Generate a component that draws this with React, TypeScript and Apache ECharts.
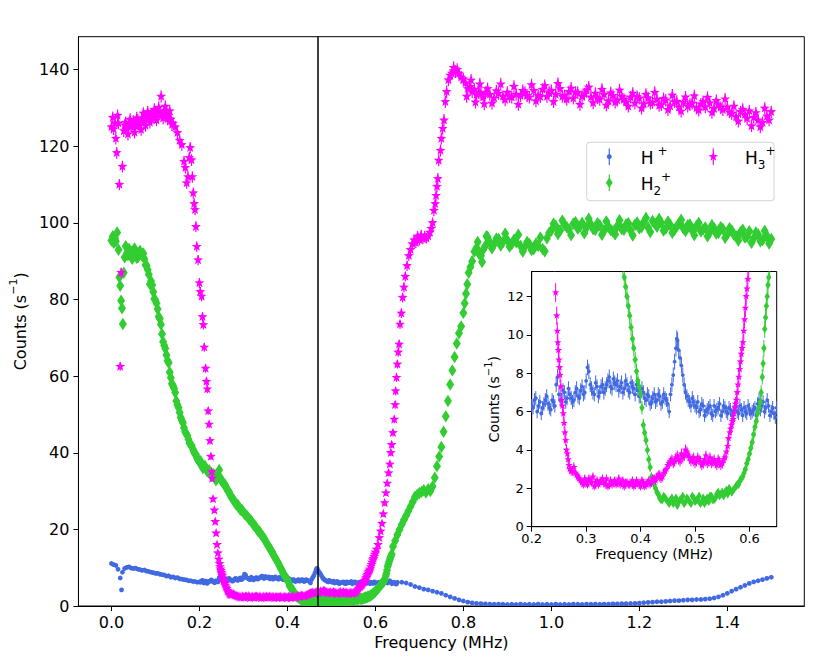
import React, { useEffect, useRef } from "react";
import * as echarts from "echarts";

// ---------------- data ----------------
// frequency (MHz), counts (s^-1)
const H1_DATA: [number, number][] = [
  [0, 11.1], [0.005, 10.8], [0.01, 10.6], [0.015, 9.6], [0.02, 7.3], [0.023, 4.2], [0.025, 8.8], [0.03, 9.8],
  [0.035, 10.1], [0.04, 10.2], [0.045, 9.9], [0.05, 9.8], [0.055, 9.9], [0.06, 9.6], [0.065, 9.5], [0.07, 9.3],
  [0.075, 9.4], [0.08, 9.1], [0.085, 9.0], [0.09, 8.8], [0.095, 8.7], [0.1, 8.5], [0.105, 8.5], [0.11, 8.3],
  [0.115, 8.2], [0.12, 8.1], [0.125, 7.8], [0.13, 7.9], [0.135, 7.5], [0.14, 7.6], [0.145, 7.3], [0.15, 7.4],
  [0.155, 7.1], [0.16, 7.0], [0.165, 6.9], [0.17, 6.8], [0.175, 6.6], [0.18, 6.6], [0.185, 6.4], [0.19, 6.4],
  [0.195, 6.2], [0.2, 6.3], [0.205, 6.6], [0.21, 6.0], [0.215, 6.5], [0.22, 6.2], [0.225, 6.6], [0.23, 6.4],
  [0.235, 6.1], [0.24, 6.5], [0.245, 7.4], [0.25, 6.9], [0.255, 6.6], [0.26, 7.0], [0.265, 6.7], [0.27, 6.9],
  [0.275, 6.5], [0.28, 7.0], [0.285, 6.8], [0.29, 7.1], [0.295, 6.9], [0.3, 7.6], [0.305, 8.1], [0.31, 7.2],
  [0.315, 6.9], [0.32, 7.3], [0.325, 7.0], [0.33, 7.4], [0.335, 7.2], [0.34, 7.6], [0.345, 7.3], [0.35, 7.7],
  [0.355, 7.4], [0.36, 7.1], [0.365, 7.5], [0.37, 7.2], [0.375, 7.4], [0.38, 7.0], [0.385, 7.3], [0.39, 6.9],
  [0.395, 7.1], [0.4, 6.8], [0.405, 7.0], [0.41, 6.6], [0.415, 6.8], [0.42, 6.5], [0.425, 6.9], [0.43, 6.6],
  [0.435, 6.8], [0.44, 6.5], [0.445, 6.7], [0.45, 6.4], [0.455, 6.9], [0.46, 7.9], [0.465, 9.3], [0.468, 9.7],
  [0.47, 9.2], [0.475, 8.4], [0.48, 7.4], [0.485, 6.8], [0.49, 6.5], [0.495, 6.7], [0.5, 6.3], [0.505, 6.5],
  [0.51, 6.1], [0.515, 6.3], [0.52, 6.0], [0.525, 6.2], [0.53, 5.9], [0.535, 6.3], [0.54, 6.1], [0.545, 6.4],
  [0.55, 6.0], [0.555, 6.2], [0.56, 5.9], [0.565, 6.1], [0.57, 6.0], [0.575, 6.3], [0.58, 5.9], [0.585, 6.1],
  [0.59, 6.2], [0.595, 5.9], [0.6, 6.1], [0.605, 6.0], [0.61, 6.2], [0.615, 6.4], [0.62, 6.1], [0.625, 6.5],
  [0.63, 6.2], [0.635, 6.3], [0.64, 6.0], [0.645, 5.9], [0.65, 6.2], [0.66, 6.2], [0.67, 6.0], [0.68, 5.6],
  [0.69, 5.1], [0.7, 4.8], [0.71, 4.4], [0.72, 4.2], [0.73, 3.9], [0.74, 3.6], [0.75, 3.3], [0.76, 2.8],
  [0.77, 2.4], [0.78, 2.0], [0.79, 1.6], [0.8, 1.3], [0.81, 1.0], [0.82, 0.8], [0.83, 0.7], [0.84, 0.6],
  [0.85, 0.55], [0.86, 0.5], [0.87, 0.45], [0.88, 0.5], [0.89, 0.45], [0.9, 0.4], [0.91, 0.45], [0.92, 0.4],
  [0.93, 0.5], [0.94, 0.4], [0.95, 0.45], [0.96, 0.4], [0.97, 0.5], [0.98, 0.4], [0.99, 0.45], [1.0, 0.4],
  [1.01, 0.5], [1.02, 0.4], [1.03, 0.45], [1.04, 0.4], [1.05, 0.5], [1.06, 0.45], [1.07, 0.4], [1.08, 0.5],
  [1.09, 0.45], [1.1, 0.5], [1.11, 0.45], [1.12, 0.5], [1.13, 0.5], [1.14, 0.55], [1.15, 0.55], [1.16, 0.6],
  [1.17, 0.6], [1.18, 0.65], [1.19, 0.7], [1.2, 0.75], [1.21, 0.85], [1.22, 0.95], [1.23, 1.0], [1.24, 1.1],
  [1.25, 1.1], [1.26, 1.2], [1.27, 1.3], [1.28, 1.4], [1.29, 1.4], [1.3, 1.5], [1.31, 1.6], [1.32, 1.6],
  [1.33, 1.7], [1.34, 1.7], [1.35, 1.8], [1.36, 1.9], [1.37, 2.1], [1.38, 2.4], [1.39, 2.8], [1.4, 3.3],
  [1.41, 3.9], [1.42, 4.4], [1.43, 4.9], [1.44, 5.4], [1.45, 5.9], [1.46, 6.3], [1.47, 6.6], [1.48, 6.9],
  [1.49, 7.2], [1.5, 7.5],
];
// interleaved H+ scan points in the 0.2–0.65 MHz window
const H1_FINE: [number, number][] = [
  [0.2025, 6.2], [0.2075, 6.7], [0.2125, 6.3], [0.2175, 5.9], [0.2225, 6.4], [0.2275, 6.8], [0.2325, 6.2],
  [0.2375, 6.6], [0.2425, 6.3], [0.2475, 7.8], [0.2525, 6.6], [0.2575, 7.1], [0.2625, 6.5], [0.2675, 7.2],
  [0.2725, 6.7], [0.2775, 6.6], [0.2825, 7.2], [0.2875, 6.7], [0.2925, 7.3], [0.2975, 7.0], [0.3025, 8.3],
  [0.3075, 7.4], [0.3125, 7.0], [0.3175, 7.5], [0.3225, 6.8], [0.3275, 7.3], [0.3325, 7.0], [0.3375, 7.4],
  [0.3425, 7.8], [0.3475, 7.2], [0.3525, 7.5], [0.3575, 7.6], [0.3625, 7.3], [0.3675, 7.0], [0.3725, 7.6],
  [0.3775, 7.1], [0.3825, 7.5], [0.3875, 7.2], [0.3925, 7.4], [0.3975, 6.8], [0.4025, 7.2], [0.4075, 6.7],
  [0.4125, 6.9], [0.4175, 6.4], [0.4225, 6.7], [0.4275, 6.5], [0.4325, 6.9], [0.4375, 6.4], [0.4425, 6.9],
  [0.4475, 6.6], [0.4525, 6.0], [0.4575, 7.4], [0.4625, 8.6], [0.4665, 9.8], [0.4725, 8.8], [0.4775, 7.9],
  [0.4825, 7.0], [0.4875, 6.6], [0.4925, 6.3], [0.4975, 6.5], [0.5025, 6.2], [0.5075, 6.0], [0.5125, 6.4],
  [0.5175, 5.8], [0.5225, 6.1], [0.5275, 6.3], [0.5325, 5.8], [0.5375, 6.0], [0.5425, 6.2], [0.5475, 5.8],
  [0.5525, 6.3], [0.5575, 6.0], [0.5625, 6.2], [0.5675, 5.8], [0.5725, 6.1], [0.5775, 6.0], [0.5825, 6.3],
  [0.5875, 5.8], [0.5925, 6.0], [0.5975, 6.3], [0.6025, 5.9], [0.6075, 6.1], [0.6125, 5.8], [0.6175, 6.6],
  [0.6225, 6.3], [0.6275, 6.0], [0.6325, 6.6], [0.6375, 5.8], [0.6425, 6.2], [0.6475, 5.7],
];

const H2_DATA: [number, number][] = [
  [0, 95.4], [0.003, 96.5], [0.005, 94.8], [0.008, 96.0], [0.01, 95.2], [0.013, 97.5], [0.016, 93.0],
  [0.018, 85.8], [0.02, 83.6], [0.022, 79.7], [0.024, 77.7], [0.026, 73.6], [0.028, 87.0], [0.03, 91.0],
  [0.035, 92.0], [0.04, 93.2], [0.045, 92.5], [0.05, 91.2], [0.055, 92.0], [0.06, 91.0], [0.065, 92.7],
  [0.07, 91.5], [0.075, 90.6], [0.08, 88.9], [0.085, 86.5], [0.09, 84.8], [0.095, 82.0], [0.1, 79.8],
  [0.105, 77.5], [0.11, 75.0], [0.115, 71.0], [0.12, 68.0], [0.125, 65.5], [0.13, 63.5], [0.135, 59.6],
  [0.14, 57.5], [0.145, 55.7], [0.15, 52.5], [0.155, 50.5], [0.16, 48.5], [0.165, 46.5], [0.17, 45.0],
  [0.175, 43.5], [0.18, 42.2], [0.185, 41.0], [0.19, 39.7], [0.195, 38.5], [0.2, 37.5], [0.205, 36.8],
  [0.21, 36.2], [0.215, 35.8], [0.22, 35.0], [0.225, 34.5], [0.23, 34.0], [0.235, 33.5], [0.24, 33.2],
  [0.245, 35.5], [0.25, 32.8], [0.255, 32.0], [0.26, 31.2], [0.265, 30.0], [0.27, 29.0], [0.275, 28.0],
  [0.28, 27.2], [0.285, 26.5], [0.29, 25.8], [0.295, 25.0], [0.3, 24.5], [0.305, 23.8], [0.31, 23.2],
  [0.315, 22.5], [0.32, 21.8], [0.325, 21.0], [0.33, 20.2], [0.335, 19.5], [0.34, 18.7], [0.345, 18.0],
  [0.35, 17.0], [0.355, 16.0], [0.36, 15.0], [0.365, 14.2], [0.37, 13.0], [0.375, 12.0], [0.38, 11.0],
  [0.385, 9.8], [0.39, 8.7], [0.395, 7.6], [0.4, 6.9], [0.405, 5.3], [0.41, 4.5], [0.415, 3.5], [0.42, 2.6],
  [0.425, 2.2], [0.43, 1.8], [0.435, 1.5], [0.44, 1.4], [0.445, 1.5], [0.45, 1.3], [0.455, 1.4], [0.46, 1.2],
  [0.465, 1.5], [0.47, 1.3], [0.475, 1.4], [0.48, 1.2], [0.485, 1.5], [0.49, 1.3], [0.495, 1.6], [0.5, 1.3],
  [0.505, 1.4], [0.51, 1.2], [0.515, 1.5], [0.52, 1.4], [0.525, 1.3], [0.53, 1.6], [0.535, 1.4], [0.54, 1.7],
  [0.545, 1.6], [0.55, 1.8], [0.555, 1.8], [0.56, 1.7], [0.565, 1.9], [0.57, 1.9], [0.575, 2.1], [0.58, 2.2],
  [0.585, 2.5], [0.59, 2.8], [0.595, 3.3], [0.6, 3.8], [0.605, 4.4], [0.61, 5.2], [0.615, 5.9], [0.62, 6.5],
  [0.625, 8.5], [0.628, 10.3], [0.631, 11.5], [0.634, 12.6], [0.637, 13.5], [0.64, 15.5], [0.645, 17.0],
  [0.65, 18.6], [0.655, 20.0], [0.66, 21.3], [0.665, 22.5], [0.67, 23.6], [0.675, 24.8], [0.68, 26.0],
  [0.685, 27.2], [0.69, 28.5], [0.695, 29.0], [0.7, 29.5], [0.705, 29.8], [0.71, 30.2], [0.715, 29.6],
  [0.72, 30.5], [0.725, 30.0], [0.73, 31.2], [0.735, 33.5], [0.74, 36.5], [0.745, 39.0], [0.75, 41.5],
  [0.755, 45.5], [0.76, 49.5], [0.765, 53.5], [0.77, 57.8], [0.775, 61.5], [0.78, 65.0], [0.785, 68.5],
  [0.79, 71.2], [0.795, 73.0], [0.8, 76.5], [0.803, 79.0], [0.806, 81.5], [0.809, 84.0], [0.812, 87.0],
  [0.816, 88.5], [0.82, 90.0], [0.825, 92.5], [0.83, 93.5], [0.835, 92.0], [0.84, 91.4], [0.845, 93.0],
  [0.85, 94.0], [0.86, 95.0], [0.87, 94.5], [0.88, 95.8], [0.89, 95.0], [0.9, 95.5], [0.91, 94.5],
  [0.92, 95.0], [0.93, 94.0], [0.94, 93.8], [0.95, 94.5], [0.96, 93.2], [0.97, 94.0], [0.98, 93.2],
  [0.99, 96.0], [1.0, 98.0], [1.01, 99.2], [1.02, 98.0], [1.03, 99.5], [1.04, 98.3], [1.05, 99.8],
  [1.06, 98.5], [1.07, 100.0], [1.08, 98.8], [1.09, 99.6], [1.1, 98.2], [1.11, 99.4], [1.12, 98.0],
  [1.13, 99.0], [1.14, 97.8], [1.15, 99.2], [1.16, 98.4], [1.17, 99.6], [1.18, 98.0], [1.19, 99.5],
  [1.2, 98.6], [1.21, 100.2], [1.22, 98.8], [1.23, 100.5], [1.24, 99.0], [1.25, 100.0], [1.26, 98.5],
  [1.27, 99.5], [1.28, 98.2], [1.29, 99.8], [1.3, 98.6], [1.31, 99.4], [1.32, 98.0], [1.33, 99.2],
  [1.34, 97.8], [1.35, 98.8], [1.36, 97.5], [1.37, 98.6], [1.38, 97.4], [1.39, 98.4], [1.4, 97.0],
  [1.41, 98.0], [1.42, 96.5], [1.43, 97.6], [1.44, 96.2], [1.45, 97.8], [1.46, 96.0], [1.47, 97.0],
  [1.48, 95.5], [1.49, 96.6], [1.5, 95.8],
];
// interleaved H2+ scan points
const H2_FINE: [number, number][] = [
  [0.0325, 93.9], [0.0375, 91.6], [0.0425, 92.4], [0.0475, 90.6], [0.0525, 93.3], [0.0575, 90.9], [0.0625, 92.2],
  [0.0675, 91.8], [0.0725, 92.0], [0.0775, 89.0], [0.0825, 87.8], [0.0875, 84.0], [0.0925, 83.8], [0.0975, 80.2],
  [0.1025, 79.0], [0.1075, 75.5], [0.1125, 73.5], [0.1175, 69.0], [0.1225, 67.2], [0.1275, 64.0], [0.1325, 61.0],
  [0.1375, 58.0], [0.1425, 56.8], [0.1475, 53.5], [0.1525, 51.8], [0.1575, 49.2], [0.1625, 47.8], [0.1675, 45.5],
  [0.1725, 44.5], [0.1775, 42.5], [0.1825, 41.8], [0.1875, 40.2], [0.1925, 39.5], [0.1975, 38.0],
  [0.2025, 37.8], [0.2075, 36.0], [0.2125, 36.6], [0.2175, 35.2], [0.2225, 35.4], [0.2275, 33.9], [0.2325, 34.4],
  [0.2375, 32.8], [0.2425, 34.0], [0.2475, 33.5], [0.2525, 32.2], [0.2575, 31.8], [0.2625, 30.5], [0.2675, 29.8],
  [0.2725, 28.4], [0.2775, 27.8], [0.2825, 26.6], [0.2875, 26.4], [0.2925, 25.2], [0.2975, 25.0], [0.3025, 24.0],
  [0.3075, 23.6], [0.3125, 22.7], [0.3175, 22.3], [0.3225, 21.2], [0.3275, 20.8], [0.3325, 19.7], [0.3375, 19.3],
  [0.3425, 18.2], [0.3475, 17.6], [0.3525, 16.4], [0.3575, 15.6], [0.3625, 14.5], [0.3675, 13.6], [0.3725, 12.5],
  [0.3775, 11.5], [0.3825, 10.4], [0.3875, 9.3], [0.3925, 8.1], [0.3975, 7.3], [0.4025, 6.2], [0.4075, 4.9],
  [0.4125, 4.0], [0.4175, 3.1], [0.4225, 2.4], [0.4275, 2.0], [0.4325, 1.7], [0.4375, 1.4], [0.4425, 1.6],
  [0.4475, 1.4], [0.4525, 1.2], [0.4575, 1.5], [0.4625, 1.3], [0.4675, 1.1], [0.4725, 1.4], [0.4775, 1.6],
  [0.4825, 1.3], [0.4875, 1.4], [0.4925, 1.2], [0.4975, 1.5], [0.5025, 1.4], [0.5075, 1.6], [0.5125, 1.3],
  [0.5175, 1.2], [0.5225, 1.5], [0.5275, 1.6], [0.5325, 1.4], [0.5375, 1.5], [0.5425, 1.8], [0.5475, 1.7],
  [0.5525, 1.6], [0.5575, 1.9], [0.5625, 2.0], [0.5675, 1.8], [0.5725, 2.0], [0.5775, 2.2], [0.5825, 2.4],
  [0.5875, 2.6], [0.5925, 3.0], [0.5975, 3.5], [0.6025, 4.1], [0.6075, 4.8], [0.6125, 5.5], [0.6175, 6.2],
  [0.6215, 7.0], [0.6235, 7.8], [0.6265, 9.3], [0.6295, 10.9], [0.6325, 12.0], [0.6355, 13.0],
  [0.8325, 95.0], [0.8425, 89.8], [0.8525, 96.5],
  [0.855, 96.3], [0.865, 93.4], [0.875, 95.9], [0.885, 94.1], [0.895, 97.2], [0.905, 93.8], [0.915, 95.6],
  [0.925, 96.9], [0.935, 92.5], [0.945, 95.0], [0.955, 92.9], [0.965, 94.6], [0.975, 96.2], [0.985, 92.6],
  [0.995, 97.4], [1.005, 99.8], [1.015, 97.1], [1.025, 100.6], [1.035, 98.9], [1.045, 96.8], [1.055, 100.2],
  [1.065, 99.0], [1.075, 97.3], [1.085, 101.1], [1.095, 98.4], [1.105, 99.9], [1.115, 96.9], [1.125, 100.4],
  [1.135, 98.1], [1.145, 97.0], [1.155, 100.7], [1.165, 98.2], [1.175, 99.9], [1.185, 96.7], [1.195, 100.1],
  [1.205, 98.9], [1.215, 101.3], [1.225, 97.6], [1.235, 99.8], [1.245, 101.0], [1.255, 98.0], [1.265, 100.3],
  [1.275, 97.4], [1.285, 99.1], [1.295, 100.8], [1.305, 97.9], [1.315, 99.6], [1.325, 96.8], [1.335, 100.0],
  [1.345, 98.3], [1.355, 96.5], [1.365, 99.4], [1.375, 97.2], [1.385, 98.9], [1.395, 96.1], [1.405, 98.6],
  [1.415, 96.9], [1.425, 95.4], [1.435, 98.2], [1.445, 96.4], [1.455, 94.8], [1.465, 97.5], [1.475, 95.2],
  [1.485, 97.9], [1.495, 94.6],
];

const H3_DATA: [number, number][] = [
  [0, 125.0], [0.003, 127.5], [0.005, 124.5], [0.008, 126.0], [0.01, 122.0], [0.012, 118.3], [0.014, 128.0],
  [0.016, 126.0], [0.018, 110.0], [0.02, 62.5], [0.022, 87.0], [0.025, 114.7], [0.028, 124.0], [0.03, 125.5],
  [0.035, 124.5], [0.04, 126.0], [0.045, 125.0], [0.05, 126.5], [0.055, 125.2], [0.06, 126.8], [0.065, 125.5],
  [0.07, 127.2], [0.075, 126.3], [0.08, 127.8], [0.085, 127.0], [0.09, 128.3], [0.095, 127.5], [0.1, 128.8],
  [0.105, 128.0], [0.11, 129.0], [0.113, 133.0], [0.115, 128.2], [0.12, 129.2], [0.125, 128.5], [0.13, 128.0],
  [0.135, 127.0], [0.14, 126.0], [0.145, 125.0], [0.15, 123.5], [0.155, 121.5], [0.16, 120.4], [0.165, 116.0],
  [0.168, 114.4], [0.171, 110.4], [0.174, 112.0], [0.177, 117.0], [0.179, 119.6], [0.182, 116.4], [0.184, 112.0],
  [0.186, 107.8], [0.188, 105.0], [0.19, 103.4], [0.192, 99.0], [0.194, 93.8], [0.197, 90.3], [0.2, 84.3],
  [0.202, 82.0], [0.205, 80.8], [0.207, 75.5], [0.209, 73.4], [0.211, 67.5], [0.214, 62.0], [0.216, 58.6],
  [0.218, 56.6], [0.22, 50.9], [0.222, 47.4], [0.224, 43.1], [0.226, 39.0], [0.228, 35.0], [0.229, 33.3],
  [0.231, 27.9], [0.234, 25.0], [0.236, 22.0], [0.238, 19.0], [0.24, 16.0], [0.242, 13.8], [0.244, 12.2],
  [0.246, 11.0], [0.248, 9.6], [0.25, 8.7], [0.252, 7.9], [0.255, 6.6], [0.258, 5.9], [0.261, 4.9],
  [0.264, 4.0], [0.267, 3.5], [0.27, 3.0], [0.275, 2.9], [0.28, 2.8], [0.285, 2.6], [0.29, 2.4], [0.295, 2.2],
  [0.3, 2.3], [0.305, 2.5], [0.31, 2.3], [0.315, 2.1], [0.32, 2.4], [0.325, 2.3], [0.33, 2.5], [0.335, 2.2],
  [0.34, 2.1], [0.345, 2.4], [0.35, 2.3], [0.355, 2.2], [0.36, 2.5], [0.365, 2.3], [0.37, 2.1], [0.375, 2.3],
  [0.38, 2.2], [0.385, 2.4], [0.39, 2.2], [0.395, 2.3], [0.4, 2.1], [0.405, 2.3], [0.41, 2.2], [0.415, 2.4],
  [0.42, 2.3], [0.425, 2.5], [0.43, 2.6], [0.435, 2.7], [0.44, 2.6], [0.445, 2.9], [0.45, 3.2], [0.455, 3.4],
  [0.46, 3.3], [0.465, 3.6], [0.47, 3.5], [0.475, 3.8], [0.48, 3.7], [0.485, 3.9], [0.49, 3.6], [0.495, 3.5],
  [0.5, 3.3], [0.505, 3.6], [0.51, 3.4], [0.515, 3.3], [0.52, 3.7], [0.525, 3.4], [0.53, 3.3], [0.535, 3.5],
  [0.54, 3.2], [0.545, 3.4], [0.55, 3.3], [0.555, 3.6], [0.56, 4.2], [0.564, 4.9], [0.567, 5.3], [0.57, 5.6],
  [0.573, 6.2], [0.576, 6.6], [0.579, 7.4], [0.582, 8.2], [0.585, 9.0], [0.588, 9.6], [0.591, 10.8],
  [0.594, 12.0], [0.597, 12.9], [0.6, 14.0], [0.603, 14.8], [0.606, 16.0], [0.609, 17.8], [0.612, 19.5],
  [0.615, 21.5], [0.618, 24.0], [0.621, 26.9], [0.624, 29.5], [0.627, 32.0], [0.63, 34.7], [0.633, 37.0],
  [0.635, 40.0], [0.637, 42.1], [0.64, 45.2], [0.643, 48.7], [0.645, 52.5], [0.646, 56.1], [0.648, 59.6],
  [0.65, 63.1], [0.652, 66.2], [0.654, 68.3], [0.656, 73.5], [0.659, 76.4], [0.662, 80.5], [0.665, 83.2],
  [0.668, 86.0], [0.672, 88.8], [0.676, 91.4], [0.68, 93.0], [0.684, 94.5], [0.688, 95.5], [0.692, 94.8],
  [0.696, 96.5], [0.7, 95.5], [0.704, 96.8], [0.708, 95.8], [0.712, 96.5], [0.716, 96.0], [0.72, 96.5],
  [0.724, 97.5], [0.727, 98.5], [0.73, 100.0], [0.733, 103.2], [0.736, 105.0], [0.738, 107.1], [0.74, 109.5],
  [0.742, 111.5], [0.744, 116.3], [0.748, 118.9], [0.75, 122.0], [0.753, 124.6], [0.756, 126.8], [0.759, 131.6],
  [0.762, 134.2], [0.766, 137.3], [0.77, 138.5], [0.774, 139.0], [0.778, 140.5], [0.782, 139.5], [0.786, 140.0],
  [0.79, 139.0], [0.795, 138.0], [0.8, 137.5], [0.805, 136.5], [0.81, 135.0], [0.815, 135.5], [0.82, 134.2],
  [0.825, 134.8], [0.83, 133.5], [0.835, 134.0], [0.84, 133.8], [0.845, 132.8], [0.85, 134.0], [0.86, 133.5],
  [0.87, 132.5], [0.88, 133.8], [0.89, 133.0], [0.9, 134.0], [0.91, 132.8], [0.92, 133.5], [0.93, 133.2],
  [0.94, 134.0], [0.95, 132.8], [0.96, 134.5], [0.97, 133.2], [0.98, 134.8], [0.99, 133.0], [1.0, 134.5],
  [1.01, 133.5], [1.02, 135.0], [1.03, 133.2], [1.04, 134.2], [1.05, 132.5], [1.06, 134.0], [1.07, 133.0],
  [1.08, 134.6], [1.09, 132.8], [1.1, 133.8], [1.11, 132.2], [1.12, 133.5], [1.13, 131.8], [1.14, 133.2],
  [1.15, 132.0], [1.16, 133.0], [1.17, 131.5], [1.18, 132.8], [1.19, 131.2], [1.2, 132.5], [1.21, 131.0],
  [1.22, 132.6], [1.23, 131.4], [1.24, 132.2], [1.25, 130.8], [1.26, 132.0], [1.27, 130.5], [1.28, 131.6],
  [1.29, 130.2], [1.3, 131.5], [1.31, 130.4], [1.32, 131.2], [1.33, 130.0], [1.34, 131.0], [1.35, 130.2],
  [1.36, 131.3], [1.37, 129.8], [1.38, 130.8], [1.39, 129.5], [1.4, 130.2], [1.41, 128.5], [1.42, 127.7],
  [1.43, 129.0], [1.44, 128.2], [1.45, 129.2], [1.46, 127.5], [1.47, 126.8], [1.48, 126.2], [1.49, 127.8],
  [1.5, 129.0],
];
// interleaved H3+ scan points
const H3_FINE: [number, number][] = [
  [0.0325, 126.2], [0.0375, 123.1], [0.0425, 127.0], [0.0475, 125.8], [0.0525, 123.6], [0.0575, 127.4],
  [0.0625, 126.1], [0.0675, 124.3], [0.0725, 128.6], [0.0775, 125.4], [0.0825, 129.0], [0.0875, 126.2],
  [0.0925, 127.9], [0.0975, 129.6], [0.1025, 126.8], [0.1075, 130.1], [0.1175, 127.3], [0.1225, 130.4],
  [0.1275, 127.1], [0.1325, 129.2], [0.1375, 125.6],
  [0.247, 10.2], [0.249, 9.2], [0.251, 8.3], [0.2535, 7.3], [0.2565, 6.3], [0.2595, 5.4], [0.2625, 4.5],
  [0.2655, 3.8], [0.2685, 3.2], [0.2725, 2.9], [0.2775, 3.1], [0.2825, 2.7], [0.2875, 2.5], [0.2925, 2.3],
  [0.2975, 2.5], [0.3025, 2.2], [0.3075, 2.4], [0.3125, 2.6], [0.3175, 2.3], [0.3225, 2.2], [0.3275, 2.4],
  [0.3325, 2.3], [0.3375, 2.5], [0.3425, 2.2], [0.3475, 2.2], [0.3525, 2.4], [0.3575, 2.3], [0.3625, 2.2],
  [0.3675, 2.4], [0.3725, 2.3], [0.3775, 2.2], [0.3825, 2.3], [0.3875, 2.1], [0.3925, 2.4], [0.3975, 2.2],
  [0.4025, 2.4], [0.4075, 2.1], [0.4125, 2.3], [0.4175, 2.2], [0.4225, 2.5], [0.4275, 2.4], [0.4325, 2.7],
  [0.4375, 2.5], [0.4425, 2.8], [0.4475, 3.0], [0.4525, 3.3], [0.4575, 3.5], [0.4625, 3.4], [0.4675, 3.7],
  [0.4725, 3.4], [0.4775, 3.6], [0.4825, 4.0], [0.4875, 3.7], [0.4925, 3.4], [0.4975, 3.6], [0.5025, 3.4],
  [0.5075, 3.5], [0.5125, 3.2], [0.5175, 3.5], [0.5225, 3.3], [0.5275, 3.6], [0.5325, 3.4], [0.5375, 3.3],
  [0.5425, 3.5], [0.5475, 3.2], [0.5525, 3.5], [0.5575, 3.9], [0.5615, 4.6], [0.5655, 5.1], [0.5685, 5.5],
  [0.5715, 5.9], [0.5745, 6.4], [0.5775, 7.0], [0.5805, 7.8], [0.5835, 8.6], [0.5865, 9.3], [0.5895, 10.2],
  [0.5925, 11.4], [0.5955, 12.4], [0.5985, 13.5],
  [0.8075, 133.0], [0.8175, 137.2], [0.8275, 131.5], [0.8375, 136.2], [0.8475, 131.0],
  [0.855, 135.0], [0.865, 131.2], [0.875, 134.4], [0.885, 136.2], [0.895, 132.1], [0.905, 133.0], [0.915, 135.6],
  [0.925, 130.9], [0.935, 134.5], [0.945, 133.2], [0.955, 136.0], [0.965, 131.8], [0.975, 132.9], [0.985, 135.8],
  [0.995, 134.1], [1.005, 131.6], [1.015, 136.3], [1.025, 133.0], [1.035, 132.2], [1.045, 135.1], [1.055, 134.0],
  [1.065, 130.9], [1.075, 133.6], [1.085, 135.4], [1.095, 131.3], [1.105, 132.6], [1.115, 134.8], [1.125, 130.7],
  [1.135, 133.9], [1.145, 131.5], [1.155, 134.6], [1.165, 132.2], [1.175, 130.4], [1.185, 133.8], [1.195, 132.9],
  [1.205, 129.9], [1.215, 133.5], [1.225, 131.2], [1.235, 134.0], [1.245, 130.6], [1.255, 132.4], [1.265, 129.5],
  [1.275, 133.3], [1.285, 131.7], [1.295, 129.1], [1.305, 132.8], [1.315, 130.9], [1.325, 133.1], [1.335, 129.4],
  [1.345, 131.6], [1.355, 132.7], [1.365, 128.8], [1.375, 131.9], [1.385, 130.1], [1.395, 132.3], [1.405, 128.9],
  [1.415, 130.4], [1.425, 126.5], [1.435, 129.6], [1.445, 127.2], [1.455, 125.3], [1.465, 128.7], [1.475, 125.0],
  [1.485, 129.9], [1.495, 126.8],
];

const MAIN_X_TICKS = [0, 0.2, 0.4, 0.6, 0.8, 1.0, 1.2, 1.4];
const MAIN_Y_TICKS = [0, 20, 40, 60, 80, 100, 120, 140];
const INSET_X_TICKS = [0.2, 0.3, 0.4, 0.5, 0.6];
const INSET_Y_TICKS = [0, 2, 4, 6, 8, 10, 12];
const MARKER_FREQ = 0.47; // vertical reference line (MHz)
const EXPOSURE_S = 50; // Poisson error bars: sqrt(rate / exposure)

const SERIES_DEFS = [
  { name: "H+", data: H1_DATA.concat(H1_FINE), color: "#4169E1", kind: "dot" },
  { name: "H2+", data: H2_DATA.concat(H2_FINE), color: "#32CD32", kind: "diamond" },
  { name: "H3+", data: H3_DATA.concat(H3_FINE), color: "#FF00FF", kind: "star" },
];

// ---------------- styling ----------------
const FONT = "'DejaVu Sans', sans-serif";
const MAIN_SIZE = { dot: 2.4, dw: 4.0, dh: 6.2, star: 5.2, lw: 1.2 };
const INSET_SIZE = { dot: 1.9, dw: 2.7, dh: 4.3, star: 3.9, lw: 1 };

function starPoints(cx: number, cy: number, R: number) {
  const pts: number[][] = [];
  for (let i = 0; i < 10; i++) {
    const a = -Math.PI / 2 + (i * Math.PI) / 5;
    const r = i % 2 === 0 ? R : R * 0.42;
    pts.push([cx + r * Math.cos(a), cy + r * Math.sin(a)]);
  }
  return pts;
}

function markerEl(kind: string, cx: number, cy: number, sz: any, color: string): any {
  if (kind === "dot") return { type: "circle", shape: { cx, cy, r: sz.dot }, style: { fill: color } };
  if (kind === "diamond")
    return {
      type: "polygon",
      shape: { points: [[cx, cy - sz.dh], [cx + sz.dw, cy], [cx, cy + sz.dh], [cx - sz.dw, cy]] },
      style: { fill: color },
    };
  return { type: "polygon", shape: { points: starPoints(cx, cy, sz.star) }, style: { fill: color } };
}

function makeRender(kind: string, sz: any, color: string) {
  return (_params: any, api: any) => {
    const x = api.value(0);
    const y = api.value(1);
    const e = Math.sqrt(Math.max(y, 0) / EXPOSURE_S);
    const c = api.coord([x, y]);
    const hi = api.coord([x, y + e]);
    const lo = api.coord([x, y - e]);
    return {
      type: "group",
      children: [
        { type: "line", shape: { x1: c[0], y1: hi[1], x2: c[0], y2: lo[1] }, style: { stroke: color, lineWidth: sz.lw } },
        markerEl(kind, c[0], c[1], sz, color),
      ],
    };
  };
}

const supRich = (fs: number, supFs: number, lh: number, supPad: number) => ({
  m: { fontSize: fs, fontFamily: FONT, color: "#000", lineHeight: lh },
  sup: {
    fontSize: supFs, fontFamily: FONT, color: "#000", lineHeight: Math.round(supFs * 1.1),
    verticalAlign: "top", padding: [0, 0, 0, supPad],
  },
  sub: { fontSize: supFs, fontFamily: FONT, color: "#000", lineHeight: Math.round(supFs * 1.1), verticalAlign: "bottom" },
});

function axisX(gridIndex: number, min: number, max: number, ticks: number[], fs: number, nameFs: number, nameGap: number, margin: number, z: number) {
  return {
    type: "value",
    gridIndex,
    min,
    max,
    z,
    name: "Frequency (MHz)",
    nameLocation: "middle",
    nameGap,
    nameTextStyle: { fontSize: nameFs, fontFamily: FONT, color: "#000" },
    axisLine: { show: true, onZero: false, lineStyle: { color: "#000", width: 1 } },
    axisTick: { show: true, length: 5, customValues: ticks, lineStyle: { color: "#000", width: 1 } },
    axisLabel: { customValues: ticks, formatter: (v: number) => v.toFixed(1), fontSize: fs, fontFamily: FONT, color: "#000", margin },
    splitLine: { show: false },
  };
}

function axisY(gridIndex: number, min: number, max: number, ticks: number[], fs: number, nameFs: number, nameGap: number, margin: number, z: number) {
  const lh = Math.round(nameFs * 1.5);
  return {
    type: "value",
    gridIndex,
    min,
    max,
    z,
    name: "{m|Counts (s}{sup|\u22121}{m|)}",
    nameLocation: "middle",
    nameGap,
    nameRotate: 90,
    nameTextStyle: { fontSize: nameFs, fontFamily: FONT, color: "#000", rich: supRich(nameFs, Math.round(nameFs * 0.7), lh, 0) },
    axisLine: { show: true, onZero: false, lineStyle: { color: "#000", width: 1 } },
    axisTick: { show: true, length: 5, customValues: ticks, lineStyle: { color: "#000", width: 1 } },
    axisLabel: { customValues: ticks, formatter: (v: number) => String(v), fontSize: fs, fontFamily: FONT, color: "#000", margin },
    splitLine: { show: false },
  };
}

function legendGraphic() {
  const els: any[] = [];
  els.push({
    type: "rect",
    shape: { x: 586.7, y: 142.3, width: 187.3, height: 58.4, r: 3 },
    style: { fill: "rgba(255,255,255,0.8)", stroke: "#d3d3d3", lineWidth: 1 },
    z: 100,
  });
  const entries = [
    { kind: "dot", color: "#4169E1", mx: 609.3, my: 156.7, tx: 640.7, text: "{m|H}{sup|+}", pad: 4 },
    { kind: "star", color: "#FF00FF", mx: 713.3, my: 156.7, tx: 745, text: "{m|H}{sub|3}{sup|+}", pad: 0 },
    { kind: "diamond", color: "#32CD32", mx: 609.3, my: 182.7, tx: 640.7, text: "{m|H}{sub|2}{sup|+}", pad: 0 },
  ];
  const lsz = { dot: 2.4, dw: 3.4, dh: 5.2, star: 5, lw: 1.2 };
  for (const e of entries) {
    els.push({ type: "line", shape: { x1: e.mx, y1: e.my - 8.3, x2: e.mx, y2: e.my + 8.3 }, style: { stroke: e.color, lineWidth: 1.2 }, z: 101 });
    els.push({ ...markerEl(e.kind, e.mx, e.my, lsz, e.color), z: 101 });
    els.push({
      type: "text",
      x: e.tx,
      y: e.my + 1,
      z: 102,
      style: {
        text: e.text,
        fill: "#000",
        verticalAlign: "middle",
        align: "left",
        fontSize: 17,
        fontFamily: FONT,
        rich: supRich(17, 12, 26, e.pad),
      },
    });
  }
  return els;
}

export default function App() {
  const ref = useRef<HTMLDivElement>(null);
  useEffect(() => {
    if (!ref.current) return;
    const chart = echarts.init(ref.current, undefined, { renderer: "svg" });
    const lineMark = {
      silent: true,
      symbol: "none",
      label: { show: false },
      lineStyle: { color: "#000", width: 1.5, type: "solid" },
      data: [{ xAxis: MARKER_FREQ }],
    };
    const series: any[] = [];
    SERIES_DEFS.forEach((s, i) => {
      series.push({
        type: "custom",
        name: s.name,
        xAxisIndex: 0,
        yAxisIndex: 0,
        data: s.data,
        encode: { x: 0, y: 1 },
        clip: true,
        z: 2 + i,
        renderItem: makeRender(s.kind, MAIN_SIZE, s.color),
        ...(i === SERIES_DEFS.length - 1 ? { markLine: lineMark } : {}),
      });
    });
    SERIES_DEFS.forEach((s, i) => {
      series.push({
        type: "custom",
        name: s.name + " (inset)",
        xAxisIndex: 1,
        yAxisIndex: 1,
        data: s.data.filter((d) => d[0] >= 0.19 && d[0] <= 0.66),
        encode: { x: 0, y: 1 },
        clip: true,
        z: 12 + i,
        renderItem: makeRender(s.kind, INSET_SIZE, s.color),
        ...(i === SERIES_DEFS.length - 1 ? { markLine: lineMark } : {}),
      });
    });

    chart.setOption({
      animation: false,
      backgroundColor: "#fff",
      grid: [
        { left: 73.3, top: 36.7, width: 731, height: 569.3, show: true, borderColor: "#000", borderWidth: 1, backgroundColor: "transparent" },
        { left: 531.7, top: 271.5, width: 245, height: 255.2, show: true, borderColor: "#000", borderWidth: 1, backgroundColor: "#fff", z: 10 },
      ],
      xAxis: [
        axisX(0, -0.075, 1.575, MAIN_X_TICKS, 16, 16, 26, 8, 5),
        axisX(1, 0.2, 0.65, INSET_X_TICKS, 13, 14, 20, 5, 11),
      ],
      yAxis: [
        axisY(0, 0, 148.6, MAIN_Y_TICKS, 16, 16, 40, 9, 5),
        axisY(1, 0, 13.3, INSET_Y_TICKS, 13, 14, 27, 8, 11),
      ],
      series,
      graphic: legendGraphic(),
    });
    return () => chart.dispose();
  }, []);
  return <div ref={ref} style={{ position: "fixed", left: 0, top: 0, width: 837, height: 667, background: "#fff" }} />;
}
